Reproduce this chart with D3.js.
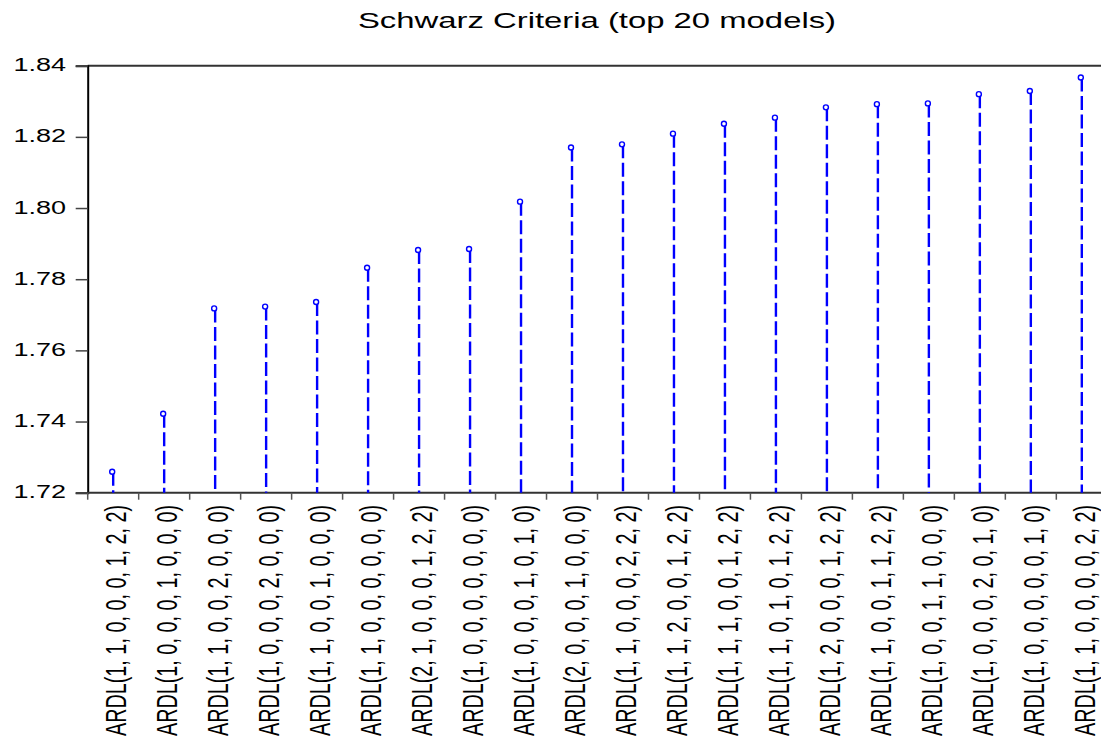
<!DOCTYPE html>
<html>
<head>
<meta charset="utf-8">
<script src="https://cdn.jsdelivr.net/npm/d3@7"></script>
<style>
  body { margin: 0; background: #fff; }
  svg { display: block; }
  text { font-family: "Liberation Sans", Arial, sans-serif; fill: #000; }
</style>
</head>
<body>
<div id="chart"></div>
<script>
// models, ordered as in the graph
let models = [
  "ARDL(1, 1, 0, 0, 0, 1, 2, 2)",
  "ARDL(1, 0, 0, 0, 1, 0, 0, 0)",
  "ARDL(1, 1, 0, 0, 2, 0, 0, 0)",
  "ARDL(1, 0, 0, 0, 2, 0, 0, 0)",
  "ARDL(1, 1, 0, 0, 1, 0, 0, 0)",
  "ARDL(1, 1, 0, 0, 0, 0, 0, 0)",
  "ARDL(2, 1, 0, 0, 0, 1, 2, 2)",
  "ARDL(1, 0, 0, 0, 0, 0, 0, 0)",
  "ARDL(1, 0, 0, 0, 1, 0, 1, 0)",
  "ARDL(2, 0, 0, 0, 1, 0, 0, 0)",
  "ARDL(1, 1, 0, 0, 0, 2, 2, 2)",
  "ARDL(1, 1, 2, 0, 0, 1, 2, 2)",
  "ARDL(1, 1, 1, 0, 0, 1, 2, 2)",
  "ARDL(1, 1, 0, 1, 0, 1, 2, 2)",
  "ARDL(1, 2, 0, 0, 0, 1, 2, 2)",
  "ARDL(1, 1, 0, 0, 1, 1, 2, 2)",
  "ARDL(1, 0, 0, 1, 1, 0, 0, 0)",
  "ARDL(1, 0, 0, 0, 2, 0, 1, 0)",
  "ARDL(1, 0, 0, 0, 0, 0, 1, 0)",
  "ARDL(1, 1, 0, 0, 0, 0, 2, 2)"
];
let sic = [
  1.7259, 1.7422, 1.7718, 1.7723, 1.7736, 1.7832, 1.7882, 1.7885, 1.8018, 1.8170,
  1.8179, 1.8209, 1.8237, 1.8254, 1.8283, 1.8292, 1.8294, 1.8320, 1.8329, 1.8367
];
let yTicks = [1.72, 1.74, 1.76, 1.78, 1.80, 1.82, 1.84];
let title = "Schwarz Criteria (top 20 models)";

let W = 1101, H = 742;
let plotL = 87.7, plotR = 1107.3, plotT = 65.7, plotB = 492.7;
let sx = 1.46; // text is stretched sideways in the original

let svg = d3.select("#chart").append("svg")
  .attr("width", W).attr("height", H);

let x = d3.scaleBand().domain(models).range([plotL, plotR]).padding(0);
let y = d3.scaleLinear().domain([1.72, 1.84]).range([plotB, plotT]);

// title
svg.append("text")
  .attr("transform", `translate(597,28) scale(${sx},1)`)
  .attr("text-anchor", "middle")
  .style("font-size", "22.5px")
  .text(title);

// top frame line
svg.append("line")
  .attr("x1", plotL).attr("x2", plotR)
  .attr("y1", y(1.84)).attr("y2", y(1.84))
  .attr("stroke", "#333").attr("stroke-width", 2);

// left axis
let yAxis = svg.append("g")
  .attr("transform", `translate(${plotL},0)`)
  .call(d3.axisLeft(y).tickValues(yTicks).tickSize(12).tickFormat(""));
yAxis.select(".domain").attr("stroke", "#000").attr("stroke-width", 2);
yAxis.selectAll(".tick line").attr("stroke", "#444").attr("stroke-width", 1.5);

svg.selectAll(".ylab").data(yTicks).enter().append("text")
  .attr("class", "ylab")
  .attr("transform", d => `translate(66,${y(d) + 5.5}) scale(${sx},1)`)
  .attr("text-anchor", "end")
  .style("font-size", "18.5px")
  .text(d => d3.format(".2f")(d));

// bottom axis line and ticks at category edges
svg.append("line")
  .attr("x1", plotL).attr("x2", plotR)
  .attr("y1", plotB).attr("y2", plotB)
  .attr("stroke", "#333").attr("stroke-width", 2);
svg.selectAll(".xtick").data(models).enter().append("line")
  .attr("class", "xtick")
  .attr("x1", d => x(d)).attr("x2", d => x(d))
  .attr("y1", plotB).attr("y2", plotB + 7)
  .attr("stroke", "#555").attr("stroke-width", 1.5);

// stems
svg.selectAll(".stem").data(sic).enter().append("line")
  .attr("class", "stem")
  .attr("x1", (d, i) => x(models[i]) + x.bandwidth() / 2)
  .attr("x2", (d, i) => x(models[i]) + x.bandwidth() / 2)
  .attr("y1", d => y(d))
  .attr("y2", y(1.72))
  .attr("stroke", "#0000ff")
  .attr("stroke-width", 2.4)
  .attr("stroke-dasharray", "14,4.5");

// markers
svg.selectAll(".dot").data(sic).enter().append("circle")
  .attr("class", "dot")
  .attr("cx", (d, i) => x(models[i]) + x.bandwidth() / 2 - 1)
  .attr("cy", d => y(d))
  .attr("r", 2.5)
  .attr("fill", "#fff")
  .attr("stroke", "#0000ff")
  .attr("stroke-width", 1.4);

// rotated category labels
svg.selectAll(".xlab").data(models).enter().append("text")
  .attr("class", "xlab")
  .attr("transform", d => `translate(${x(d) + x.bandwidth() / 2 + 13},505) scale(${sx},1) rotate(-90)`)
  .attr("text-anchor", "end")
  .style("font-size", "19.8px")
  .text(d => d);
</script>
</body>
</html>
